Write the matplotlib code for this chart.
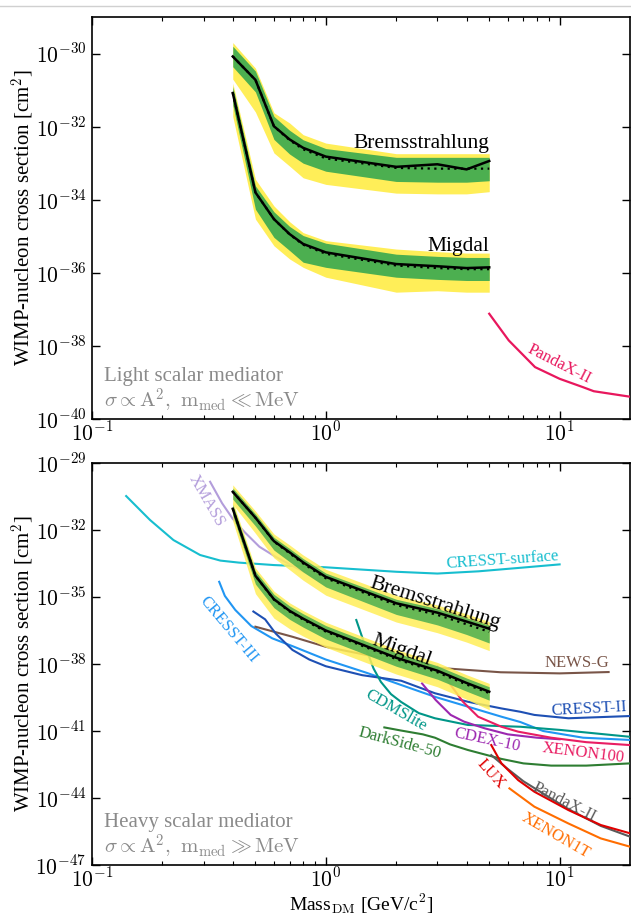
import numpy as np
import matplotlib
matplotlib.use('Agg')
import matplotlib.pyplot as plt
from matplotlib.ticker import FixedLocator, FuncFormatter, NullFormatter
from matplotlib.lines import Line2D

plt.rcParams['font.family'] = 'serif'
plt.rcParams['font.serif'] = ['Liberation Serif', 'DejaVu Serif']
plt.rcParams['mathtext.fontset'] = 'cm'

# ---------------- data (log10 of cross section) ----------------
mass = [0.4, 0.5, 0.6, 0.7, 0.8, 1.0, 2.0, 3.0, 4.0, 5.0]

# light mediator, bremsstrahlung
lt_br_obs = [-30.08, -30.72, -31.99, -32.35, -32.58, -32.82, -33.10, -33.03, -33.17, -32.94]
lt_br_exp = [-30.08, -30.72, -31.99, -32.37, -32.62, -32.87, -33.13, -33.15, -33.15, -33.15]
lt_br_1hi = [-29.80, -30.48, -31.72, -32.10, -32.36, -32.60, -32.84, -32.84, -32.84, -32.84]
lt_br_1lo = [-30.36, -31.05, -32.35, -32.75, -33.00, -33.22, -33.50, -33.52, -33.52, -33.48]
lt_br_2hi = [-29.70, -30.40, -31.62, -31.90, -32.22, -32.45, -32.74, -32.74, -32.74, -32.74]
lt_br_2lo = [-30.70, -31.60, -32.72, -33.08, -33.40, -33.58, -33.82, -33.84, -33.84, -33.78]
# light mediator, Migdal
lt_mi_obs = [-31.08, -33.80, -34.53, -34.94, -35.21, -35.44, -35.76, -35.82, -35.87, -35.85]
lt_mi_exp = [-31.08, -33.80, -34.53, -34.95, -35.23, -35.48, -35.80, -35.87, -35.90, -35.90]
lt_mi_1hi = [-30.90, -33.62, -34.33, -34.73, -34.98, -35.19, -35.49, -35.55, -35.58, -35.58]
lt_mi_1lo = [-31.40, -34.26, -35.03, -35.39, -35.71, -35.85, -36.12, -36.18, -36.21, -36.21]
lt_mi_2hi = [-30.81, -33.44, -34.17, -34.60, -34.90, -35.12, -35.35, -35.42, -35.46, -35.46]
lt_mi_2lo = [-31.72, -34.53, -35.26, -35.62, -35.85, -36.12, -36.53, -36.49, -36.53, -36.53]

# heavy mediator, bremsstrahlung
hv_br_obs = [-30.29, -31.45, -32.50, -33.00, -33.45, -34.10, -35.28, -35.70, -36.10, -36.42]
hv_br_exp = [-30.29, -31.45, -32.52, -33.04, -33.50, -34.16, -35.36, -35.80, -36.22, -36.56]
hv_br_1hi = [-30.12, -31.28, -32.33, -32.83, -33.28, -33.93, -35.10, -35.52, -35.93, -36.26]
hv_br_1lo = [-30.62, -31.82, -32.90, -33.42, -33.88, -34.55, -35.78, -36.25, -36.68, -37.06]
hv_br_2hi = [-29.98, -31.15, -32.18, -32.67, -33.12, -33.76, -34.93, -35.36, -35.76, -36.10]
hv_br_2lo = [-30.85, -32.15, -33.25, -33.78, -34.25, -34.92, -36.12, -36.60, -37.02, -37.40]
# heavy mediator, Migdal
hv_mi_obs = [-31.05, -34.05, -35.10, -35.62, -35.97, -36.50, -37.72, -38.30, -38.85, -39.24]
hv_mi_exp = [-31.05, -34.05, -35.12, -35.65, -36.01, -36.55, -37.78, -38.37, -38.92, -39.30]
hv_mi_1hi = [-30.85, -33.85, -34.88, -35.40, -35.75, -36.28, -37.50, -38.08, -38.63, -39.02]
hv_mi_1lo = [-31.35, -34.42, -35.48, -36.00, -36.35, -36.88, -38.10, -38.68, -39.22, -39.62]
hv_mi_2hi = [-30.72, -33.70, -34.74, -35.26, -35.61, -36.13, -37.35, -37.93, -38.48, -38.87]
hv_mi_2lo = [-31.60, -34.85, -35.95, -36.42, -36.75, -37.25, -38.45, -39.02, -39.58, -40.05]

# top panel other experiment
top_pandax_m = [5.0, 6.06, 7.85, 10.0, 12.6, 14.0, 20.0]
top_pandax_s = [-37.12, -37.85, -38.58, -38.90, -39.13, -39.24, -39.39]

# bottom panel experiments
cresst_surf_m = [0.14, 0.177, 0.223, 0.29, 0.354, 0.425, 0.6, 1.0, 2.0, 3.0, 4.5, 7.0, 10.0]
cresst_surf_s = [-30.48, -31.55, -32.45, -33.12, -33.37, -33.46, -33.57, -33.67, -33.87, -33.95, -33.85, -33.68, -33.54]
xmass_m = [0.32, 0.36, 0.40, 0.45, 0.52, 0.61, 0.72, 0.85, 1.0]
xmass_s = [-29.84, -30.80, -31.50, -32.10, -32.75, -33.20, -33.60, -34.00, -34.50]
cresst3_m = [0.35, 0.37, 0.41, 0.48, 0.59, 0.72, 1.0, 1.5, 2.1, 2.93, 4.05, 5.64, 6.8, 8.5, 12.6, 20.0]
cresst3_s = [-34.32, -34.95, -35.58, -36.30, -36.85, -37.20, -37.80, -38.40, -38.94, -39.47, -39.91, -40.36, -40.60, -41.00, -41.30, -41.40]
cresst2_m = [0.49, 0.55, 0.61, 0.72, 0.85, 1.0, 1.43, 2.1, 2.93, 4.05, 5.64, 6.8, 7.8, 10.9, 20.0]
cresst2_s = [-35.65, -36.00, -36.63, -37.37, -37.80, -38.10, -38.50, -38.75, -39.31, -39.69, -39.99, -40.14, -40.28, -40.43, -40.33]
newsg_m = [0.5, 0.72, 1.0, 1.5, 2.0, 3.0, 5.6, 10.0, 16.2]
newsg_s = [-36.33, -36.78, -37.23, -37.60, -37.85, -38.17, -38.37, -38.42, -38.36]
cdmslite_m = [1.35, 1.42, 1.51, 1.6, 1.72, 1.9, 2.1, 2.5, 2.93, 4.05, 6.8, 10.0, 20.0]
cdmslite_s = [-36.03, -36.70, -37.50, -38.20, -38.80, -39.35, -39.70, -40.20, -40.43, -40.73, -40.81, -40.95, -41.26]
darkside_m = [1.78, 2.1, 2.6, 2.93, 3.4, 4.05, 5.64, 7.0, 9.2, 13.0, 20.0]
darkside_s = [-40.84, -40.98, -41.15, -41.30, -41.60, -41.85, -42.25, -42.45, -42.55, -42.55, -42.45]
cdex_m = [2.58, 2.95, 3.42, 3.9, 4.78, 6.0, 8.0, 10.0]
cdex_s = [-38.87, -39.61, -40.28, -40.58, -40.88, -41.15, -41.30, -41.37]
xenon100_m = [3.0, 3.4, 3.86, 4.48, 5.64, 6.65, 9.2, 13.0, 20.0]
xenon100_s = [-38.12, -38.90, -39.69, -40.36, -40.81, -41.03, -41.30, -41.50, -41.63]
lux_m = [5.1, 5.64, 6.65, 7.8, 10.9, 15.0, 20.0]
lux_s = [-41.63, -42.45, -43.20, -43.72, -44.54, -45.21, -45.58]
pandax_m = [5.1, 6.0, 7.0, 8.5, 10.9, 15.0, 20.0]
pandax_s = [-42.08, -42.70, -43.25, -43.80, -44.50, -45.25, -45.73]
xenon1t_m = [6.1, 7.8, 10.9, 15.0, 20.0]
xenon1t_s = [-43.57, -44.39, -45.14, -45.81, -46.18]

YELLOW = '#FFEE58'
GREEN = '#4CAF50'
GRAY_TXT = '#8a8a8a'


def p(v):
    return 10.0 ** np.asarray(v)


def draw_bands(ax, obs, exp, h1, l1, h2, l2, alpha):
    ax.fill_between(mass, p(l2), p(h2), color=YELLOW, lw=0, alpha=alpha, zorder=5)
    ax.fill_between(mass, p(l1), p(h1), color=GREEN, lw=0, alpha=alpha, zorder=6)
    ax.plot(mass, p(exp), color='k', ls=(0, (1, 2)), lw=1.6, zorder=7)
    ax.plot(mass, p(obs), color='k', lw=1.8, zorder=8)


def style(ax, ymin, ymax, step):
    ax.set_xscale('log')
    ax.set_yscale('log')
    ax.set_xlim(0.1, 20)
    ax.set_ylim(10.0 ** ymin, 10.0 ** ymax)
    ax.xaxis.set_major_locator(FixedLocator([0.1, 1, 10]))
    minors = [k * 10.0 ** e for e in (-1, 0, 1) for k in range(2, 10) if k * 10.0 ** e < 20]
    ax.xaxis.set_minor_locator(FixedLocator(minors))
    ax.xaxis.set_minor_formatter(NullFormatter())
    ax.yaxis.set_major_locator(FixedLocator(10.0 ** np.arange(ymin, ymax + 0.5, step)))
    ax.yaxis.set_minor_locator(FixedLocator([]))
    fmt = FuncFormatter(lambda v, pos: r'$10^{%d}$' % int(round(np.log10(v))))
    ax.xaxis.set_major_formatter(fmt)
    ax.yaxis.set_major_formatter(fmt)
    ax.tick_params(which='both', direction='in', top=True, right=True, labelsize=15.5)
    ax.tick_params(which='major', length=6, width=1.0)
    ax.tick_params(axis='x', which='major', pad=2)
    ax.tick_params(axis='y', which='major', pad=4)
    ax.tick_params(which='minor', length=3, width=0.8)
    for s in ax.spines.values():
        s.set_linewidth(1.2)
    ax.set_ylabel(r'WIMP-nucleon cross section [cm$^2$]', fontsize=15, va='center')
    ax.yaxis.set_label_coords(-0.128, 0.5)


fig = plt.figure(figsize=(6.31, 9.15), dpi=100)
fig.add_artist(Line2D([0, 1], [1 - 6 / 915, 1 - 6 / 915], color='#d0d0d0', lw=1.0,
                      transform=fig.transFigure))
W = 538 / 631
H = 402 / 915
ax1 = fig.add_axes([92 / 631, 1 - 419 / 915, W, H])
ax2 = fig.add_axes([92 / 631, 1 - 865 / 915, W, H])

# ---------------- top panel ----------------
style(ax1, -40, -29, 2)
ax1.yaxis.set_major_locator(FixedLocator(10.0 ** np.arange(-40, -29, 2)))
draw_bands(ax1, lt_br_obs, lt_br_exp, lt_br_1hi, lt_br_1lo, lt_br_2hi, lt_br_2lo, 1.0)
draw_bands(ax1, lt_mi_obs, lt_mi_exp, lt_mi_1hi, lt_mi_1lo, lt_mi_2hi, lt_mi_2lo, 1.0)
ax1.plot(top_pandax_m, p(top_pandax_s), color='#E8175D', lw=1.6, zorder=3)
ax1.text(10.0, 10 ** -38.51, 'PandaX-II', color='#E8175D', fontsize=12, rotation=-27,
         ha='center', va='center', rotation_mode='anchor')
ax1.text(5.0, 10 ** -32.58, 'Bremsstrahlung', fontsize=15.5, ha='right', va='baseline', zorder=10)
ax1.text(5.0, 10 ** -35.41, 'Migdal', fontsize=15.5, ha='right', va='baseline', zorder=10)
ax1.text(0.022, 0.095, 'Light scalar mediator', transform=ax1.transAxes, fontsize=15,
         color=GRAY_TXT, va='baseline')
ax1.text(0.022, 0.027, r'$\sigma \propto \mathrm{A}^2,\ \mathrm{m}_\mathrm{med} \ll \mathrm{MeV}$',
         transform=ax1.transAxes, fontsize=15, color=GRAY_TXT, va='baseline')

# ---------------- bottom panel ----------------
style(ax2, -47, -29, 3)
curves = [
    (cresst_surf_m, cresst_surf_s, '#17BECF'),
    (xmass_m, xmass_s, '#B39DDB'),
    (cresst3_m, cresst3_s, '#2196F3'),
    (newsg_m, newsg_s, '#795548'),
    (cresst2_m, cresst2_s, '#1E50B4'),
    (cdmslite_m, cdmslite_s, '#009688'),
    (darkside_m, darkside_s, '#2E7D32'),
    (cdex_m, cdex_s, '#9C27B0'),
    (xenon100_m, xenon100_s, '#E91E63'),
    (pandax_m, pandax_s, '#5A5A5A'),
    (lux_m, lux_s, '#E00000'),
    (xenon1t_m, xenon1t_s, '#FF6D00'),
]
for m, s, c in curves:
    ax2.plot(m, p(s), color=c, lw=1.5, zorder=3)

draw_bands(ax2, hv_br_obs, hv_br_exp, hv_br_1hi, hv_br_1lo, hv_br_2hi, hv_br_2lo, 0.85)
draw_bands(ax2, hv_mi_obs, hv_mi_exp, hv_mi_1hi, hv_mi_1lo, hv_mi_2hi, hv_mi_2lo, 0.85)

labels = [
    ('XMASS', 0.31, -30.70, -60, '#B39DDB'),
    ('CRESST-surface', 5.7, -33.33, 4, '#17BECF'),
    ('CRESST-III', 0.385, -36.45, -50, '#2196F3'),
    ('NEWS-G', 11.8, -37.94, 0, '#795548'),
    ('CRESST-II', 13.4, -40.03, 3, '#1E50B4'),
    ('CDMSlite', 2.0, -40.09, -30, '#009688'),
    ('DarkSide-50', 2.06, -41.55, -15, '#2E7D32'),
    ('CDEX-10', 4.91, -41.40, -12, '#9C27B0'),
    ('XENON100', 12.6, -41.97, -7, '#E91E63'),
    ('LUX', 5.07, -42.93, -48, '#E00000'),
    ('PandaX-II', 10.5, -44.17, -27, '#5A5A5A'),
    ('XENON1T', 9.6, -45.70, -30, '#FF6D00'),
]
for t, x, y, r, c in labels:
    ax2.text(x, 10 ** y, t, color=c, fontsize=12, rotation=r, ha='center', va='center',
             rotation_mode='anchor', zorder=9)

ax2.text(1.53, 10 ** -34.57, 'Bremsstrahlung', fontsize=15.5, rotation=-17.6, ha='left',
         va='baseline', rotation_mode='anchor', zorder=10)
ax2.text(1.57, 10 ** -37.1, 'Migdal', fontsize=15.5, rotation=-20, ha='left',
         va='baseline', rotation_mode='anchor', zorder=10)
ax2.text(0.022, 0.095, 'Heavy scalar mediator', transform=ax2.transAxes, fontsize=15,
         color=GRAY_TXT, va='baseline')
ax2.text(0.022, 0.027, r'$\sigma \propto \mathrm{A}^2,\ \mathrm{m}_\mathrm{med} \gg \mathrm{MeV}$',
         transform=ax2.transAxes, fontsize=15, color=GRAY_TXT, va='baseline')
ax2.set_xlabel(r'Mass$_\mathrm{DM}$ [GeV/c$^2$]', fontsize=14, va='center')
ax2.xaxis.set_label_coords(0.5, -0.096)

fig.savefig('out.png', dpi=100)
